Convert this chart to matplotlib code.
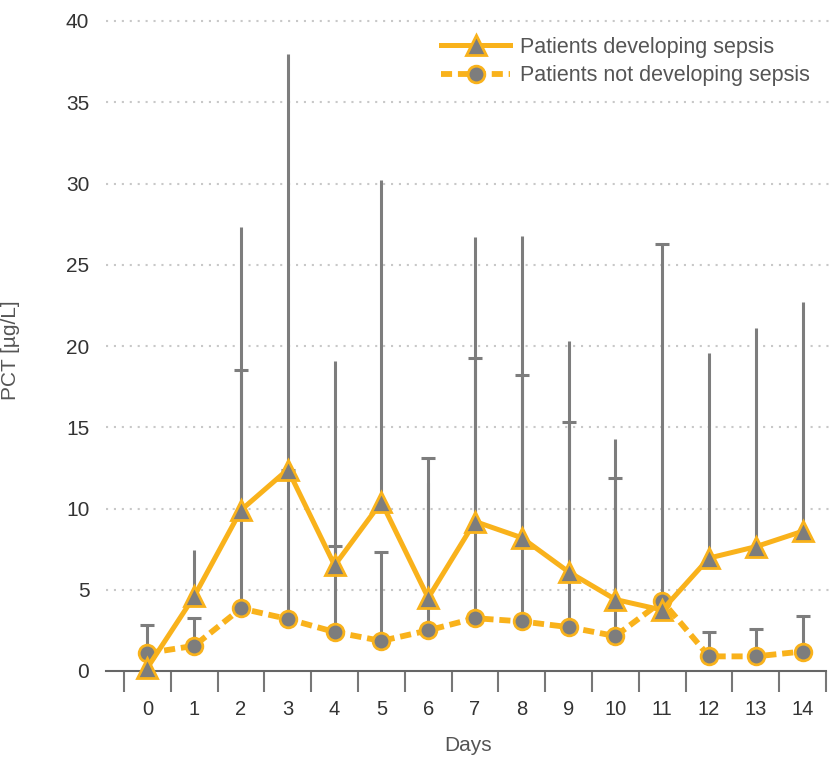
import numpy as np
import matplotlib
matplotlib.use("Agg")
import matplotlib.pyplot as plt

plt.rcParams['font.family'] = ['Liberation Sans', 'DejaVu Sans']

# --- datos ---
days = np.arange(15)
day_labels = [str(d) for d in days]

sepsis = [0.2, 4.6, 9.9, 12.4, 6.5, 10.4, 4.5, 9.2, 8.2, 6.1, 4.4, 3.75, 6.95, 7.65, 8.6]
sepsis_upper = [0.2, 7.45, 27.3, 38.0, 19.05, 30.2, 11.55, 26.7, 26.8, 20.3, 14.3, 3.75, 19.55, 21.1, 22.7]

no_sepsis = [1.1, 1.55, 3.85, 3.2, 2.4, 1.85, 2.5, 3.25, 3.05, 2.7, 2.15, 4.3, 0.9, 0.9, 1.2]
no_sepsis_upper = [2.85, 3.25, 18.55, 12.4, 7.7, 7.3, 13.1, 19.25, 18.2, 15.35, 11.85, 26.3, 2.4, 2.6, 3.4]

y_ticks = [0, 5, 10, 15, 20, 25, 30, 35, 40]

ORANGE = '#f9b21b'
GRAY = '#7d7d7d'

fig = plt.figure(figsize=(8.3, 7.58), dpi=100)
ax = fig.add_axes([106 / 830, 87 / 758, 724 / 830, 40.3 * 16.25 / 758])

# barras de error (solo hacia arriba)
s = np.array(sepsis)
n = np.array(no_sepsis)
ax.errorbar(days, s, yerr=[np.zeros_like(s), np.array(sepsis_upper) - s],
            fmt='none', ecolor=GRAY, elinewidth=2.2, capsize=0, zorder=2)
ax.errorbar(days, n, yerr=[np.zeros_like(n), np.array(no_sepsis_upper) - n],
            fmt='none', ecolor=GRAY, elinewidth=2.2, capsize=5, capthick=2.2, zorder=2)

# series
l_no, = ax.plot(days, no_sepsis, linestyle=(0, (1.9, 1.0)), color=ORANGE, linewidth=4.2,
                marker='o', markersize=12, markerfacecolor=GRAY, markeredgecolor=ORANGE,
                markeredgewidth=2, label='Patients not developing sepsis', zorder=3, clip_on=False)
l_si, = ax.plot(days, sepsis, linestyle='-', color=ORANGE, linewidth=3.6,
                marker='^', markersize=15, markerfacecolor=GRAY, markeredgecolor=ORANGE,
                markeredgewidth=2, label='Patients developing sepsis', zorder=4, clip_on=False)

# ejes
ax.set_xlim(-0.885, 14.585)
ax.set_ylim(0, 40.3)
for side in ['top', 'right', 'left']:
    ax.spines[side].set_visible(False)
ax.spines['bottom'].set_color('#666666')
ax.spines['bottom'].set_linewidth(1.5)
ax.spines['bottom'].set_bounds(-0.885, 14.5)

ax.set_xticks(np.arange(-0.5, 15, 1))
ax.set_xticklabels([])
ax.tick_params(axis='x', which='major', length=15, width=1.5, color='#777777', direction='out', pad=2)
ax.set_xticks(days, minor=True)
ax.set_xticklabels(day_labels, minor=True)
ax.tick_params(axis='x', which='minor', length=0, pad=21, labelsize=14.5, labelcolor='#333333')

ax.set_yticks(y_ticks)
ax.tick_params(axis='y', length=0, pad=12, labelsize=15, labelcolor='#333333')

# rejilla punteada
for yv in y_ticks[1:]:
    ax.axhline(yv, color='#c8c8c8', linestyle=(0, (1, 2.8)), linewidth=1.5, zorder=1, clip_on=False)

ax.set_xlabel('Days', fontsize=15, color='#555555', labelpad=12)
ax.set_ylabel('PCT [µg/L]', fontsize=15, color='#555555')
ax.yaxis.set_label_coords(-0.119, 0.49)

ax.legend(handles=[l_si, l_no], loc='upper right', bbox_to_anchor=(1.0, 1.0), frameon=False,
          fontsize=15.5, labelcolor='#555555', handlelength=3.2, labelspacing=0.35,
          handletextpad=0.45, borderaxespad=0.55)

fig.savefig('out.png', dpi=100)
